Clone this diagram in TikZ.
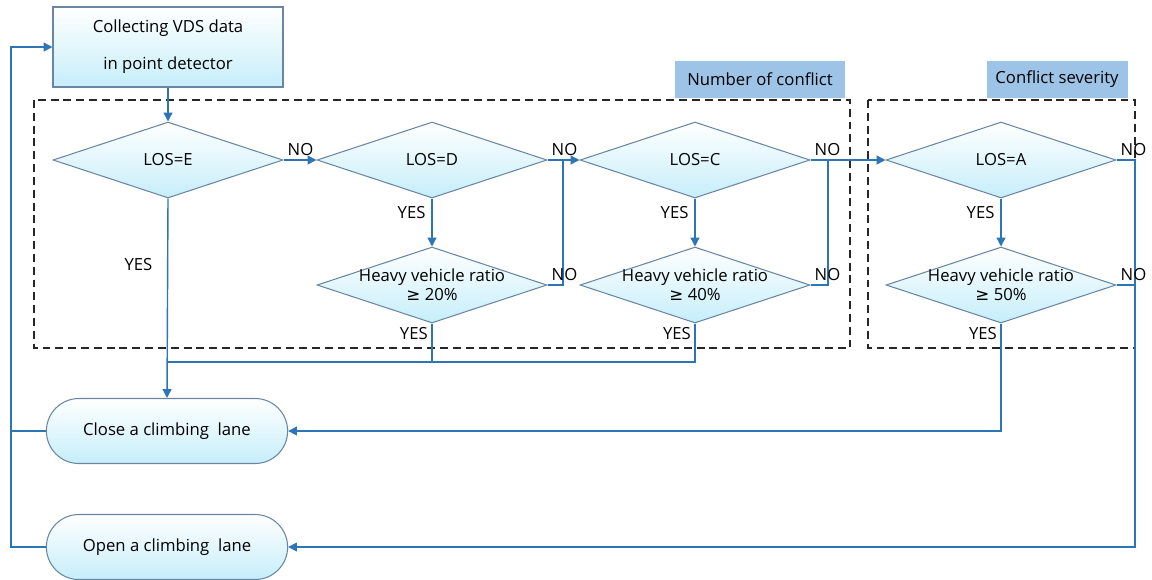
\documentclass[tikz,border=0pt]{standalone}
\usepackage{fontspec}
\setmainfont{Open Sans}
\newfontfamily\symfont{DejaVu Sans}
\usetikzlibrary{shapes.geometric,shapes.misc,arrows.meta}
\definecolor{flowblue}{RGB}{46,117,182}
\definecolor{edgegray}{RGB}{105,135,165}
\definecolor{fillcyan}{RGB}{198,238,250}
\definecolor{tagblue}{RGB}{157,195,230}
\tikzset{
  flow/.style={draw=flowblue, line width=0.8pt},
  decision/.style={diamond, aspect=3, draw=edgegray, line width=0.6pt, top color=white, bottom color=fillcyan,
    minimum width=4.6cm, minimum height=1.52cm, inner xsep=-12pt, inner ysep=-6pt, align=center},
  lane/.style={rounded rectangle, draw=edgegray, line width=0.6pt, top color=white, bottom color=fillcyan,
    minimum width=5.06cm, minimum height=1.3cm},
  startbox/.style={rectangle, draw=edgegray, line width=0.6pt, top color=white, bottom color=fillcyan,
    minimum width=4.6cm, minimum height=1.6cm, align=center},
  tag/.style={rectangle, fill=tagblue, minimum height=0.74cm},
  area/.style={draw=black!85, line width=0.8pt, dash pattern=on 4.5pt off 2.8pt},
  lbl/.style={inner sep=2pt}
}
\begin{document}
\begin{tikzpicture}[x=0.02cm, y=-0.02cm, >={Triangle[length=5pt,width=5pt]},
  font=\fontsize{9.5}{11}\selectfont]
  \useasboundingbox (0,0) rectangle (1152,579);

  % Areas
  \draw[area] (34,100) rectangle (850,348);
  \draw[area] (868,100) rectangle (1135,348);
  \node[tag, minimum width=3.4cm] (tagnum) at (760,79) {Number of conflict};
  \node[tag, minimum width=2.82cm] (tagsev) at (1057,79) {Conflict severity};

  % Nodes
  \node[startbox] (collect) at (168,47) {Collecting VDS data\\[10pt]in point detector};
  \node[decision] (lose) at (168,160) {LOS=E};
  \node[decision] (losd) at (432,160) {LOS=D};
  \node[decision] (losc) at (695,160) {LOS=C};
  \node[decision] (losa) at (1001,160) {LOS=A};
  \node[decision] (hv20) at (432,285) {Heavy vehicle ratio\\{\symfont ≥} 20\%};
  \node[decision] (hv40) at (695,285) {Heavy vehicle ratio\\{\symfont ≥} 40\%};
  \node[decision] (hv50) at (1001,285) {Heavy vehicle ratio\\{\symfont ≥} 50\%};
  \node[lane] (close) at (167,431) {Close a climbing~ lane};
  \node[lane] (open) at (167,547) {Open a climbing~ lane};

  % Rails
  \coordinate (jd) at (563,160);
  \coordinate (jc) at (828,160);
  \coordinate (rail) at (1135,547);
  \coordinate (bus) at (168,362);
  \coordinate (lrail) at (11,0);

  % NO branches
  \draw[flow,->] (collect.south) -- (lose.north);
  \draw[flow,->] (lose.east) node[lbl, above right] {NO} -- (losd.west);
  \draw[flow,->] (losd.east) node[lbl, above right] {NO} -- (losc.west);
  \draw[flow,->] (losc.east) node[lbl, above right] {NO} -- (losa.west);
  \draw[flow] (hv20.east) node[lbl, above right] {NO} -| (jd);
  \draw[flow] (hv40.east) node[lbl, above right] {NO} -| (jc);
  \draw[flow,->] (losa.east) node[lbl, above right] {NO} -| (rail) -- (open.east);
  \draw[flow] (hv50.east) node[lbl, above right] {NO} -- (hv50.east -| rail);

  % YES branches
  \draw[flow,->] (lose.south) -- (close.north) node[pos=0.33, left=5pt] {YES};
  \draw[flow,->] (losd.south) -- (hv20.north) node[pos=0.3, left] {YES};
  \draw[flow,->] (losc.south) -- (hv40.north) node[pos=0.3, left] {YES};
  \draw[flow,->] (losa.south) -- (hv50.north) node[pos=0.3, left] {YES};
  \draw[flow] (hv20.south) node[lbl, below left] {YES} |- (bus);
  \draw[flow] (hv40.south) node[lbl, below left] {YES} |- (bus);
  \draw[flow,->] (hv50.south) node[lbl, below left] {YES} |- (close.east);

  % Back to start
  \draw[flow] (close.west) -- (close.west -| lrail);
  \draw[flow,->] (open.west) -- (open.west -| lrail) |- (collect.west);
\end{tikzpicture}
\end{document}
